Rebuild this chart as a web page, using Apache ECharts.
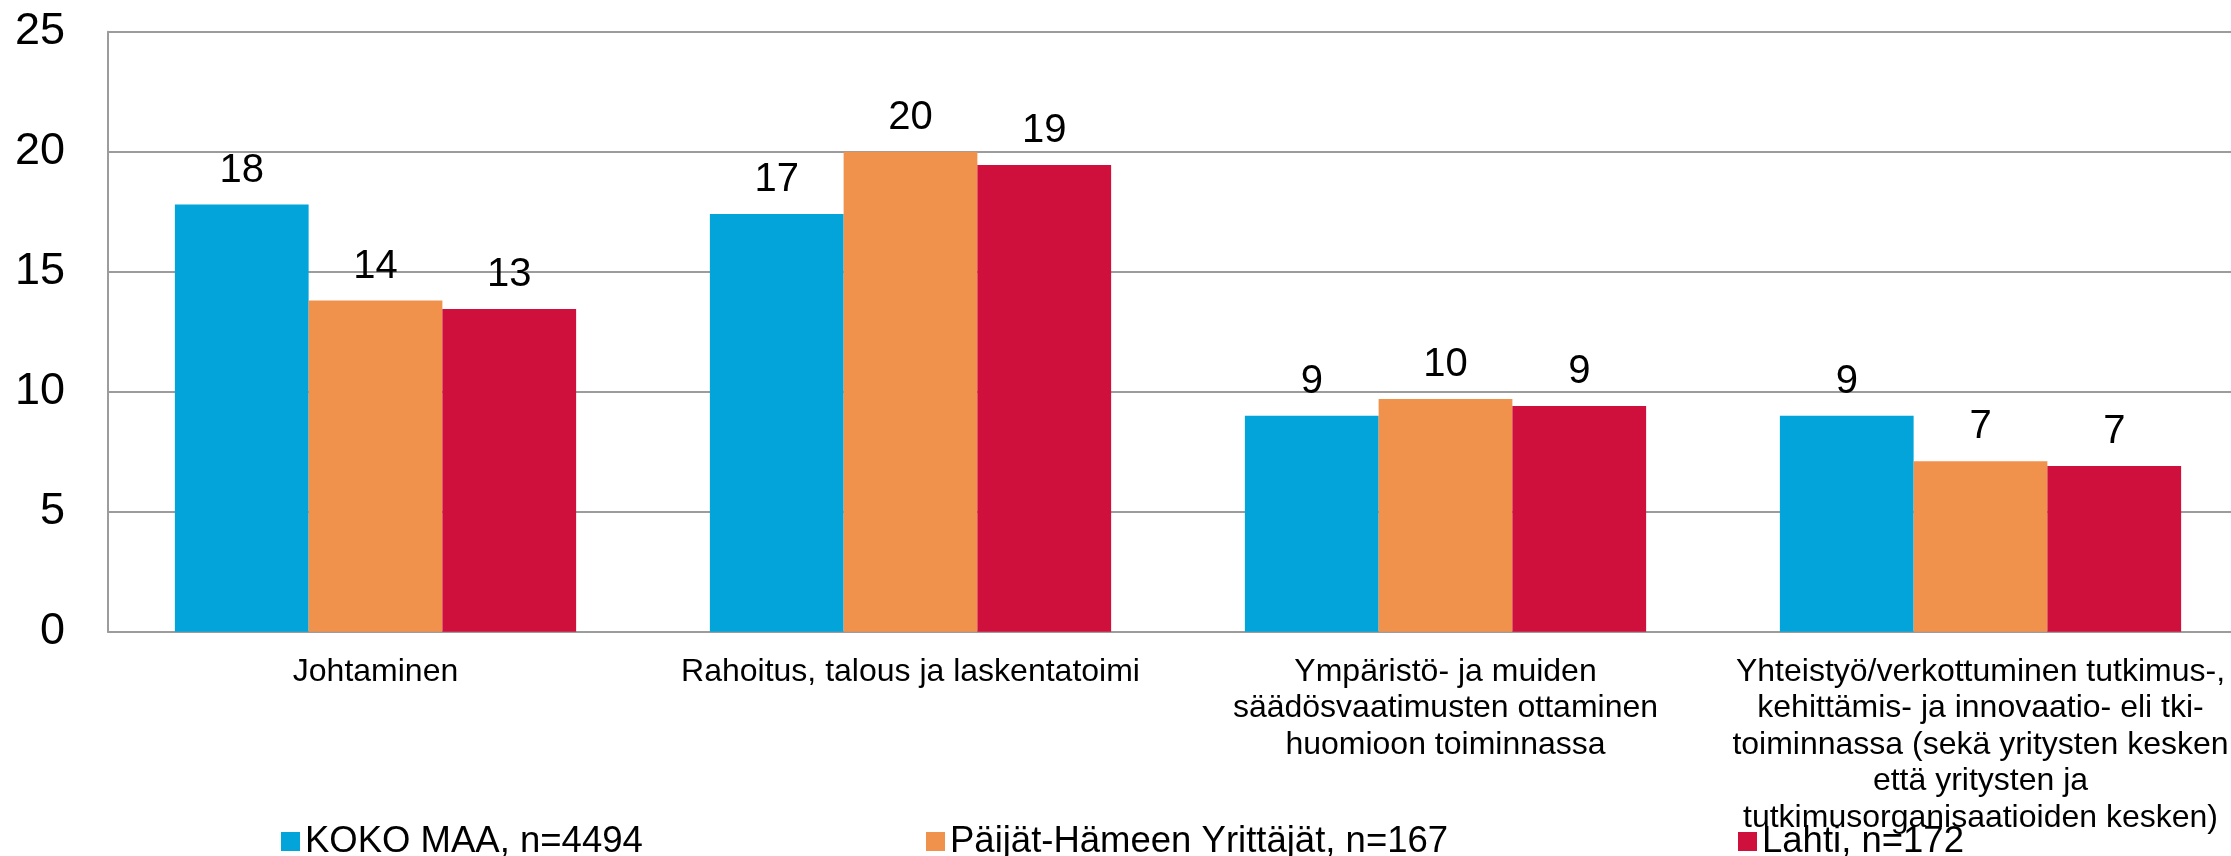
<!DOCTYPE html>
<html>
<head>
<meta charset="utf-8">
<script src="https://cdn.jsdelivr.net/npm/echarts@6/dist/echarts.min.js"></script>
<style>
html,body{margin:0;padding:0;background:#fff;overflow:hidden;width:2231px;height:856px;}
#chart{width:2248px;height:856px;}
</style>
</head>
<body>
<div id="chart"></div>
<script>
const categories = [
  'Johtaminen',
  'Rahoitus, talous ja laskentatoimi',
  'Ympäristö- ja muiden\nsäädösvaatimusten ottaminen\nhuomioon toiminnassa',
  'Yhteistyö/verkottuminen tutkimus-,\nkehittämis- ja innovaatio- eli tki-\ntoiminnassa (sekä yritysten kesken\nettä yritysten ja\ntutkimusorganisaatioiden kesken)'
];
const seriesNames = ['KOKO MAA, n=4494', 'Päijät-Hämeen Yrittäjät, n=167', 'Lahti, n=172'];
const kokoMaa = [17.8, 17.4, 9.0, 9.0];
const paijatHame = [13.8, 20.0, 9.7, 7.1];
const lahti = [13.45, 19.45, 9.4, 6.9];
const yTicks = [0, 5, 10, 15, 20, 25];

const colors = ['#03a4da', '#f0914c', '#cf103d'];
const FONT = "'Liberation Sans', Arial, sans-serif";
const gridColor = '#9c9c9c';

const chart = echarts.init(document.getElementById('chart'));
function mkSeries(name, data, color) {
  return {
    name: name,
    type: 'bar',
    data: data,
    barGap: '0%',
    barCategoryGap: '25%',
    itemStyle: { color: color },
    label: {
      show: true,
      position: 'top',
      distance: 14,
      color: '#000',
      fontFamily: FONT,
      fontSize: 40,
      formatter: p => Math.round(p.value)
    }
  };
}
function mkLegend(name, left) {
  return {
    data: [name],
    left: left,
    top: 823,
    padding: 0,
    icon: 'rect',
    itemWidth: 19,
    itemHeight: 19,
    textStyle: { fontFamily: FONT, fontSize: 36.5, color: '#000' }
  };
}
chart.setOption({
  backgroundColor: '#fff',
  animation: false,
  color: colors,
  grid: { left: 108, right: 0, top: 31.7, bottom: 224.3 },
  legend: [
    mkLegend(seriesNames[0], 281),
    mkLegend(seriesNames[1], 926),
    mkLegend(seriesNames[2], 1738)
  ],
  xAxis: {
    type: 'category',
    data: categories,
    axisLine: { show: true, lineStyle: { color: gridColor, width: 2 } },
    axisTick: { show: false },
    axisLabel: {
      interval: 0,
      margin: 22,
      color: '#000',
      fontFamily: FONT,
      fontSize: 32,
      lineHeight: 36.5,
      align: 'center'
    }
  },
  yAxis: {
    type: 'value',
    min: yTicks[0],
    max: yTicks[yTicks.length - 1],
    interval: 5,
    axisLine: { show: true, lineStyle: { color: gridColor, width: 2 } },
    axisTick: { show: false },
    splitLine: { show: true, lineStyle: { color: gridColor, width: 2 } },
    axisLabel: {
      margin: 43,
      color: '#000',
      fontFamily: FONT,
      fontSize: 45,
      padding: [6, 0, 0, 0]
    }
  },
  series: [
    mkSeries(seriesNames[0], kokoMaa, colors[0]),
    mkSeries(seriesNames[1], paijatHame, colors[1]),
    mkSeries(seriesNames[2], lahti, colors[2])
  ]
});
</script>
</body>
</html>
